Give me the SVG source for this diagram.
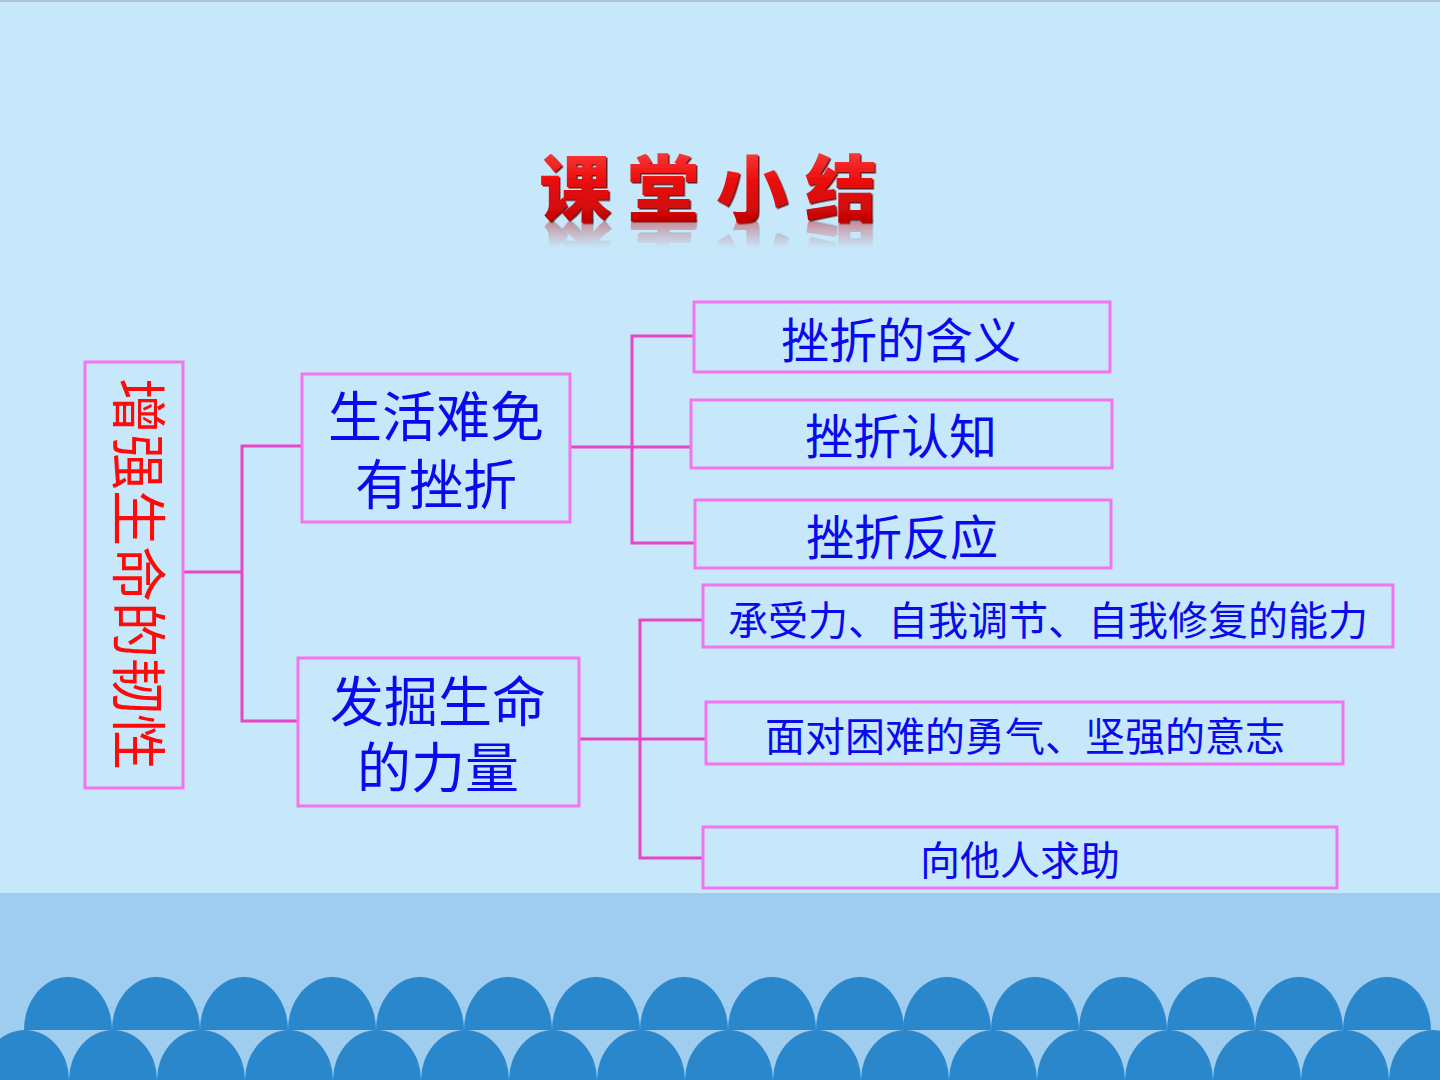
<svg xmlns="http://www.w3.org/2000/svg" xmlns:xlink="http://www.w3.org/1999/xlink" width="1440" height="1080" viewBox="0 0 1440 1080">
  <defs>
    <style>
      .box { fill: none; stroke: #F274EE; stroke-width: 3; }
      .conn { fill: none; stroke: #E845C6; stroke-width: 3; }
      .cjk { font-family: "Noto Sans CJK SC", "Noto Sans", sans-serif; }
      .blue { fill: #0A0AEE; text-anchor: middle; }
      .red { fill: #FF0A0A; text-anchor: middle; }
      .dome { fill: #2A87CB; }
    </style>
    <linearGradient id="titleFill" x1="0" y1="0" x2="0" y2="1">
      <stop offset="0" stop-color="#FF5A5A"/>
      <stop offset="0.45" stop-color="#EE1010"/>
      <stop offset="1" stop-color="#B80000"/>
    </linearGradient>
    <filter id="titleShadow" x="-10%" y="-20%" width="120%" height="140%">
      <feDropShadow dx="1.5" dy="1.5" stdDeviation="0.6" flood-color="#6A0000" flood-opacity="0.9"/>
    </filter>
    <linearGradient id="reflFade" gradientUnits="userSpaceOnUse" x1="0" y1="221" x2="0" y2="248">
      <stop offset="0" stop-color="#fff" stop-opacity="0.4"/>
      <stop offset="1" stop-color="#fff" stop-opacity="0"/>
    </linearGradient>
    <mask id="reflMask" maskUnits="userSpaceOnUse" x="500" y="219" width="420" height="40">
      <rect x="500" y="219" width="420" height="40" fill="url(#reflFade)"/>
    </mask>
    <path id="topDome" class="dome" d="M-44,1030 A44,53 0 0 1 44,1030 Z"/>
    <ellipse id="botDome" class="dome" cx="0" cy="1080" rx="44" ry="50"/>
  </defs>

  <!-- background -->
  <rect x="0" y="0" width="1440" height="1080" fill="#C6E8FA"/>
  <rect x="0" y="0" width="1440" height="2" fill="#AFC3CF"/>
  <rect x="0" y="893" width="1440" height="187" fill="#9FCDF0"/>

  <!-- waves -->
  <g id="waves">
    <use xlink:href="#topDome" x="68"/>
    <use xlink:href="#topDome" x="156"/>
    <use xlink:href="#topDome" x="244"/>
    <use xlink:href="#topDome" x="332"/>
    <use xlink:href="#topDome" x="420"/>
    <use xlink:href="#topDome" x="508"/>
    <use xlink:href="#topDome" x="596"/>
    <use xlink:href="#topDome" x="684"/>
    <use xlink:href="#topDome" x="772"/>
    <use xlink:href="#topDome" x="860"/>
    <use xlink:href="#topDome" x="947"/>
    <use xlink:href="#topDome" x="1035"/>
    <use xlink:href="#topDome" x="1123"/>
    <use xlink:href="#topDome" x="1211"/>
    <use xlink:href="#topDome" x="1299"/>
    <use xlink:href="#topDome" x="1387"/>
    <use xlink:href="#botDome" x="25"/>
    <use xlink:href="#botDome" x="113"/>
    <use xlink:href="#botDome" x="201"/>
    <use xlink:href="#botDome" x="289"/>
    <use xlink:href="#botDome" x="377"/>
    <use xlink:href="#botDome" x="465"/>
    <use xlink:href="#botDome" x="553"/>
    <use xlink:href="#botDome" x="641"/>
    <use xlink:href="#botDome" x="729"/>
    <use xlink:href="#botDome" x="817"/>
    <use xlink:href="#botDome" x="905"/>
    <use xlink:href="#botDome" x="993"/>
    <use xlink:href="#botDome" x="1081"/>
    <use xlink:href="#botDome" x="1169"/>
    <use xlink:href="#botDome" x="1257"/>
    <use xlink:href="#botDome" x="1345"/>
    <use xlink:href="#botDome" x="1433"/>
  </g>

  <!-- title -->
  <g id="title">
    <text id="titleText" class="cjk" x="575 663 752 841" y="215" font-size="72" font-weight="900" text-anchor="middle" fill="url(#titleFill)" filter="url(#titleShadow)">课堂小结</text>
    <g mask="url(#reflMask)">
      <use xlink:href="#titleText" transform="translate(0,442) scale(1,-1)"/>
    </g>
  </g>

  <!-- connectors -->
  <g id="connectors">
    <polyline class="conn" points="183,572 242,572"/>
    <polyline class="conn" points="302,446 242,446 242,721 299,721"/>
    <polyline class="conn" points="570,447 632,447"/>
    <polyline class="conn" points="694,336 632,336 632,543 694,543"/>
    <polyline class="conn" points="632,447 690,447"/>
    <polyline class="conn" points="579,739 640,739"/>
    <polyline class="conn" points="703,620 640,620 640,858 703,858"/>
    <polyline class="conn" points="640,739 706,739"/>
  </g>

  <!-- root node -->
  <g id="node-root">
    <rect class="box" x="85" y="362" width="98" height="426"/>
    <text class="cjk red" font-size="56" transform="translate(139,574) rotate(90)" x="0" y="21">增强生命的韧性</text>
  </g>

  <!-- level 2 -->
  <g id="node-a">
    <rect class="box" x="302" y="374" width="268" height="148"/>
    <text class="cjk blue" font-size="54"><tspan x="436" y="437">生活难免</tspan><tspan x="436" y="505">有挫折</tspan></text>
  </g>
  <g id="node-b">
    <rect class="box" x="298" y="658" width="281" height="148"/>
    <text class="cjk blue" font-size="54"><tspan x="438" y="722">发掘生命</tspan><tspan x="438" y="788">的力量</tspan></text>
  </g>

  <!-- level 3 -->
  <g id="node-a1">
    <rect class="box" x="694" y="302" width="416" height="70"/>
    <text class="cjk blue" font-size="48" x="901" y="358">挫折的含义</text>
  </g>
  <g id="node-a2">
    <rect class="box" x="691" y="400" width="421" height="68"/>
    <text class="cjk blue" font-size="48" x="901" y="454">挫折认知</text>
  </g>
  <g id="node-a3">
    <rect class="box" x="695" y="500" width="416" height="68"/>
    <text class="cjk blue" font-size="48" x="902" y="555">挫折反应</text>
  </g>
  <g id="node-b1">
    <rect class="box" x="703" y="585" width="690" height="62"/>
    <text class="cjk blue" font-size="40" x="1048" y="635">承受力、自我调节、自我修复的能力</text>
  </g>
  <g id="node-b2">
    <rect class="box" x="706" y="702" width="637" height="62"/>
    <text class="cjk blue" font-size="40" x="1025" y="751">面对困难的勇气、坚强的意志</text>
  </g>
  <g id="node-b3">
    <rect class="box" x="703" y="827" width="634" height="61"/>
    <text class="cjk blue" font-size="40" x="1020" y="875">向他人求助</text>
  </g>
</svg>
